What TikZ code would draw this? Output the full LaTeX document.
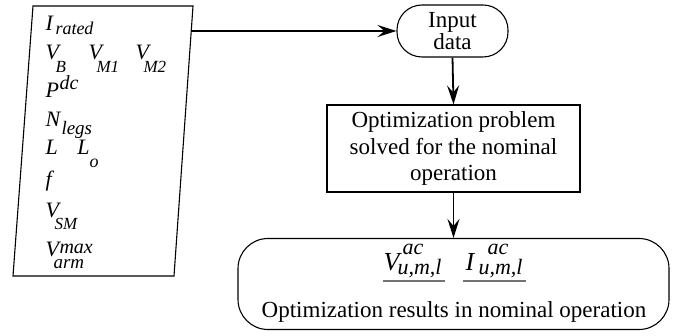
\documentclass[tikz,border=0pt]{standalone}
\usepackage{fontspec}
\setmainfont{Liberation Serif}
\usetikzlibrary{arrows.meta}
\newcommand{\fsz}[1]{\fontsize{#1}{#1}\selectfont}
\newcommand{\putt}[4]{\rlap{\kern#1pt\raisebox{#2pt}{\fsz{#3}\itshape #4}}}
\tikzset{
  lbl/.style={anchor=base west, inner sep=0pt, outer sep=0pt},
  arr/.style={line width=1.8pt, -{Stealth[length=19pt,width=12pt,inset=7pt]}},
  flowbox/.style={draw, line width=1.1pt, align=center, inner sep=0pt},
  uline/.style={draw=black!55, line width=2pt},
  databox/.style={draw, line width=1.1pt}
}
\begin{document}
\begin{tikzpicture}[x=1pt,y=-1pt]
\useasboundingbox (0,0) rectangle (687,336);
% input parameter parallelogram
\coordinate (p1) at (33,6);
\coordinate (p2) at (193,6);
\coordinate (p3) at (174,276);
\coordinate (p4) at (13,276);
\draw[databox] (p1) -- (p2) -- (p3) -- (p4) -- cycle;
\coordinate (pout) at (191.3,31);
% parameter lines
\node[lbl] (l1) at (45,31) {\putt{0}{0}{22}{I}\putt{10}{-4}{18}{rated}};
\node[lbl] (l2) at (45,60) {\putt{0}{0}{22}{V}\putt{10}{-13}{17}{B}\putt{43}{0}{22}{V}\putt{51}{-13}{17}{M1}\putt{90}{0}{22}{V}\putt{98}{-13}{17}{M2}};
\node[lbl] (l3) at (45,98) {\putt{0}{0}{22}{P}\putt{14}{8}{20}{dc}};
\node[lbl] (l4) at (45,127) {\putt{0}{0}{22}{N}\putt{16}{-8}{19}{legs}};
\node[lbl] (l5) at (45,155) {\putt{0}{0}{22}{L}\putt{32}{0}{22}{L}\putt{44}{-13}{18}{o}};
\node[lbl] (l6) at (45,187) {\putt{0}{0}{22}{f}};
\node[lbl] (l7) at (45,218) {\putt{0}{0}{22}{V}\putt{9}{-12}{17}{SM}};
\node[lbl] (l8) at (45,257) {\putt{0}{0}{22}{V}\putt{14}{3}{20}{max}\putt{8}{-12}{19}{arm}};
% flow nodes
\node[flowbox, rounded corners=25pt, minimum width=111pt, minimum height=52pt,
      font=\fontsize{23}{22.7}\selectfont] (input) at (452.5,31) {Input\\data};
\node[flowbox, minimum width=253pt, minimum height=87pt,
      font=\fontsize{23}{26.5}\selectfont] (prob) at (453.5,148.5)
      {Optimization problem\\solved for the nominal\\operation};
\node[flowbox, rounded corners=30pt, minimum width=431pt, minimum height=91pt] (res) at (453.5,284) {};
\node[lbl] (fV) at (383,270) {\putt{0}{0}{26}{V}\putt{19}{15}{22}{ac}\putt{14}{-5}{22}{u,m,l}};
\node[lbl] (fI) at (465,270) {\putt{0}{0}{26}{I}\putt{22}{15}{22}{ac}\putt{13}{-5}{22}{u,m,l}};
\node[anchor=base, inner sep=0pt, font=\fsz{23}] (restxt) at (454,317) {Optimization results in nominal operation};
\coordinate (u1a) at (383,281); \coordinate (u1b) at (445,281);
\coordinate (u2a) at (463,281); \coordinate (u2b) at (526,281);
\draw[uline] (u1a) -- (u1b);
\draw[uline] (u2a) -- (u2b);
% connectors
\draw[arr] (pout) -- (input.west);
\draw[arr] (input.south) -- (prob.north);
\draw[arr] (prob.south) -- (res.north);
\end{tikzpicture}
\end{document}
